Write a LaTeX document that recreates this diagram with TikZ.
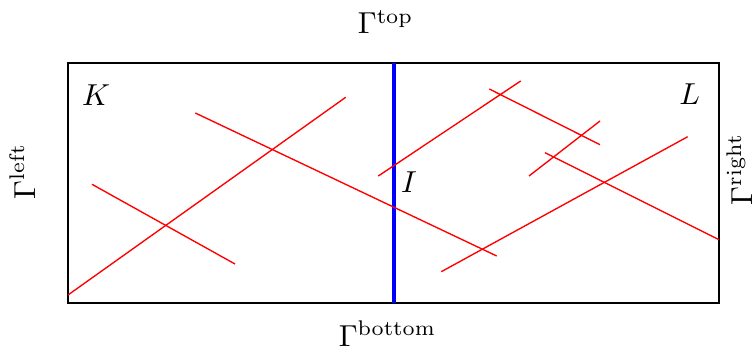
\documentclass[tikz,border=0pt]{standalone}
\usepackage{tikz}
\tikzset{
	fracture/.style={draw=red, line width=0.45pt},
	interface/.style={draw=blue, line width=1.4pt},
	domainlabel/.style={anchor=base, inner sep=0pt, font=\fontsize{10}{12}\selectfont},
}

\begin{document}
\begin{tikzpicture}[x=0.33pt,y=0.33pt]
	\useasboundingbox (-68,-46) rectangle (687,303);

	% Domain and interface
	\draw[line width=0.4pt] (0,0) rectangle (651,240);
	\draw[interface] (326,0) -- (326,240);

	% Fractures
	\draw[fracture] (0,8) -- (277.7,205.7);
	\draw[fracture] (24,118.7) -- (167,39);
	\draw[fracture] (127.3,190) -- (428.7,47);
	\draw[fracture] (310.3,127) -- (452.7,222);
	\draw[fracture] (421.3,214) -- (532,158.3);
	\draw[fracture] (461,127) -- (532,182);
	\draw[fracture] (477,150.3) -- (651,63.3);
	\draw[fracture] (373.3,31.3) -- (619.7,166.3);

	% Subdomain labels
	\node[domainlabel] (K) at (28,197) {$K$};
	\node[domainlabel] (L) at (621.7,198) {$L$};
	\node[domainlabel] (I) at (341,110) {$I$};

	% Boundary labels
	\node[domainlabel] (Gtop) at (317.5,269) {$\Gamma^{\mathrm{top}}$};
	\node[domainlabel] (Gbottom) at (319.5,-43.5) {$\Gamma^{\mathrm{bottom}}$};
	\node[domainlabel, rotate=90] (Gleft) at (-33,131.5) {$\Gamma^{\mathrm{left}}$};
	\node[domainlabel, rotate=90] (Gright) at (684,133.5) {$\Gamma^{\mathrm{right}}$};
\end{tikzpicture}
\end{document}
